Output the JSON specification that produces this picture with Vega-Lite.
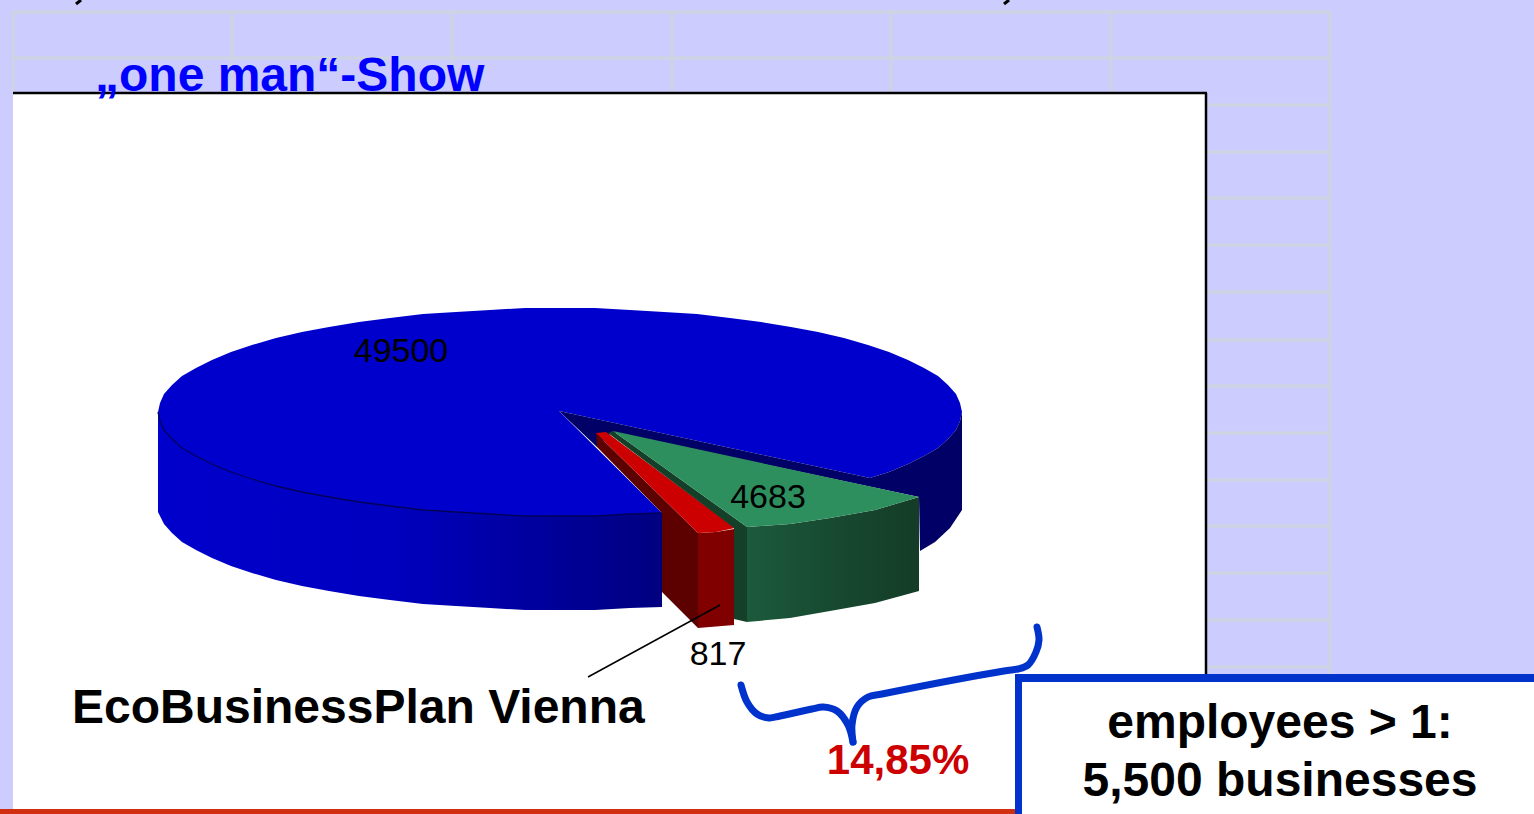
{"$schema":"https://vega.github.io/schema/vega-lite/v6.json","width":1534,"height":814,"autosize":"none","padding":0,"background":"#CCCCFF","config":{"view":{"stroke":null},"axis":{"disable":true}},
"datasets":{
"grid":[{"x":13,"x2":13,"y":12,"y2":93},{"x":232,"x2":232,"y":12,"y2":93},{"x":452,"x2":452,"y":12,"y2":93},{"x":672,"x2":672,"y":12,"y2":93},{"x":891,"x2":891,"y":12,"y2":93},{"x":1111,"x2":1111,"y":12,"y2":93},{"x":1330,"x2":1330,"y":12,"y2":675},{"x":13,"x2":1330,"y":12,"y2":12},{"x":13,"x2":1330,"y":58,"y2":58},{"x":1207,"x2":1330,"y":105,"y2":105},{"x":1207,"x2":1330,"y":152,"y2":152},{"x":1207,"x2":1330,"y":198,"y2":198},{"x":1207,"x2":1330,"y":245,"y2":245},{"x":1207,"x2":1330,"y":292,"y2":292},{"x":1207,"x2":1330,"y":340,"y2":340},{"x":1207,"x2":1330,"y":386,"y2":386},{"x":1207,"x2":1330,"y":433,"y2":433},{"x":1207,"x2":1330,"y":480,"y2":480},{"x":1207,"x2":1330,"y":526,"y2":526},{"x":1207,"x2":1330,"y":573,"y2":573},{"x":1207,"x2":1330,"y":620,"y2":620},{"x":1207,"x2":1330,"y":667,"y2":667}],
"blueWall":[{"i":1,"x":158,"y":412},{"i":2,"x":160,"y":421},{"i":3,"x":164,"y":430},{"i":4,"x":172,"y":439},{"i":5,"x":182,"y":448},{"i":6,"x":212,"y":464},{"i":7,"x":252,"y":479},{"i":8,"x":302,"y":492},{"i":9,"x":359,"y":502},{"i":10,"x":423,"y":510},{"i":11,"x":490,"y":514},{"i":12,"x":560,"y":516},{"i":13,"x":662,"y":513},{"i":14,"x":662,"y":607},{"i":15,"x":630,"y":608},{"i":16,"x":595,"y":610},{"i":17,"x":560,"y":610},{"i":18,"x":525,"y":610},{"i":19,"x":490,"y":608},{"i":20,"x":456,"y":606},{"i":21,"x":423,"y":604},{"i":22,"x":390,"y":600},{"i":23,"x":359,"y":596},{"i":24,"x":329,"y":591},{"i":25,"x":302,"y":586},{"i":26,"x":276,"y":580},{"i":27,"x":252,"y":573},{"i":28,"x":231,"y":566},{"i":29,"x":212,"y":558},{"i":30,"x":196,"y":550},{"i":31,"x":182,"y":542},{"i":32,"x":172,"y":533},{"i":33,"x":164,"y":524},{"i":34,"x":160,"y":516},{"i":35,"x":158,"y":512}],
"navy":[{"i":1,"x":559,"y":411},{"i":2,"x":870,"y":478},{"i":3,"x":889,"y":472},{"i":4,"x":908,"y":464},{"i":5,"x":924,"y":456},{"i":6,"x":938,"y":448},{"i":7,"x":948,"y":439},{"i":8,"x":956,"y":430},{"i":9,"x":960,"y":421},{"i":10,"x":962,"y":412},{"i":11,"x":962,"y":510},{"i":12,"x":950,"y":528},{"i":13,"x":935,"y":542},{"i":14,"x":920,"y":551},{"i":15,"x":919,"y":497},{"i":16,"x":612,"y":432},{"i":17,"x":597,"y":447}],
"blueTop":[{"i":1,"x":559,"y":411},{"i":2,"x":870,"y":478},{"i":3,"x":889,"y":472},{"i":4,"x":908,"y":464},{"i":5,"x":924,"y":456},{"i":6,"x":938,"y":448},{"i":7,"x":948,"y":439},{"i":8,"x":956,"y":430},{"i":9,"x":960,"y":421},{"i":10,"x":962,"y":412},{"i":11,"x":960,"y":403},{"i":12,"x":956,"y":394},{"i":13,"x":948,"y":385},{"i":14,"x":938,"y":376},{"i":15,"x":924,"y":368},{"i":16,"x":908,"y":360},{"i":17,"x":889,"y":352},{"i":18,"x":868,"y":345},{"i":19,"x":844,"y":338},{"i":20,"x":818,"y":332},{"i":21,"x":791,"y":327},{"i":22,"x":761,"y":322},{"i":23,"x":730,"y":318},{"i":24,"x":697,"y":314},{"i":25,"x":664,"y":312},{"i":26,"x":630,"y":310},{"i":27,"x":595,"y":308},{"i":28,"x":560,"y":308},{"i":29,"x":525,"y":308},{"i":30,"x":490,"y":310},{"i":31,"x":456,"y":312},{"i":32,"x":423,"y":314},{"i":33,"x":390,"y":318},{"i":34,"x":359,"y":322},{"i":35,"x":329,"y":327},{"i":36,"x":302,"y":332},{"i":37,"x":276,"y":338},{"i":38,"x":252,"y":345},{"i":39,"x":231,"y":352},{"i":40,"x":212,"y":360},{"i":41,"x":196,"y":368},{"i":42,"x":182,"y":376},{"i":43,"x":172,"y":385},{"i":44,"x":164,"y":394},{"i":45,"x":160,"y":403},{"i":46,"x":158,"y":412},{"i":47,"x":160,"y":421},{"i":48,"x":164,"y":430},{"i":49,"x":172,"y":439},{"i":50,"x":182,"y":448},{"i":51,"x":196,"y":456},{"i":52,"x":212,"y":464},{"i":53,"x":231,"y":472},{"i":54,"x":252,"y":479},{"i":55,"x":276,"y":486},{"i":56,"x":302,"y":492},{"i":57,"x":329,"y":497},{"i":58,"x":359,"y":502},{"i":59,"x":390,"y":506},{"i":60,"x":423,"y":510},{"i":61,"x":456,"y":512},{"i":62,"x":490,"y":514},{"i":63,"x":525,"y":516},{"i":64,"x":560,"y":516},{"i":65,"x":595,"y":516},{"i":66,"x":630,"y":514},{"i":67,"x":662,"y":513}],
"rim":[{"i":1,"x":158,"y":412},{"i":2,"x":160,"y":421},{"i":3,"x":164,"y":430},{"i":4,"x":172,"y":439},{"i":5,"x":182,"y":448},{"i":6,"x":196,"y":456},{"i":7,"x":212,"y":464},{"i":8,"x":231,"y":472},{"i":9,"x":252,"y":479},{"i":10,"x":276,"y":486},{"i":11,"x":302,"y":492},{"i":12,"x":329,"y":497},{"i":13,"x":359,"y":502},{"i":14,"x":390,"y":506},{"i":15,"x":423,"y":510},{"i":16,"x":456,"y":512},{"i":17,"x":490,"y":514},{"i":18,"x":525,"y":516},{"i":19,"x":560,"y":516},{"i":20,"x":595,"y":516},{"i":21,"x":630,"y":514},{"i":22,"x":662,"y":513}],
"redSide":[{"i":1,"x":596,"y":433},{"i":2,"x":698,"y":533},{"i":3,"x":698,"y":628},{"i":4,"x":662,"y":592},{"i":5,"x":662,"y":513},{"i":6,"x":597,"y":447}],
"redTop":[{"i":1,"x":596,"y":433},{"i":2,"x":606,"y":432},{"i":3,"x":735,"y":528},{"i":4,"x":716,"y":532},{"i":5,"x":698,"y":533}],
"redFront":[{"i":1,"x":698,"y":533},{"i":2,"x":716,"y":532},{"i":3,"x":734,"y":529},{"i":4,"x":734,"y":625},{"i":5,"x":698,"y":628}],
"greenSide":[{"i":1,"x":608,"y":433},{"i":2,"x":613,"y":431},{"i":3,"x":747,"y":527},{"i":4,"x":747,"y":622},{"i":5,"x":734,"y":619},{"i":6,"x":734,"y":528}],
"greenTop":[{"i":1,"x":613,"y":431},{"i":2,"x":919,"y":497},{"i":3,"x":875,"y":510},{"i":4,"x":830,"y":518},{"i":5,"x":790,"y":524},{"i":6,"x":747,"y":527}],
"greenFront":[{"i":1,"x":747,"y":527},{"i":2,"x":790,"y":524},{"i":3,"x":830,"y":518},{"i":4,"x":875,"y":510},{"i":5,"x":919,"y":497},{"i":6,"x":919,"y":591},{"i":7,"x":875,"y":603},{"i":8,"x":830,"y":611},{"i":9,"x":790,"y":618},{"i":10,"x":747,"y":622}],
"leader":[{"i":1,"x":588,"y":677},{"i":2,"x":720,"y":605}],
"stubA":[{"i":1,"x":81,"y":0},{"i":2,"x":76,"y":4}],
"stubB":[{"i":1,"x":1009,"y":0},{"i":2,"x":1004,"y":4}],
"braceLeft":[{"i":1,"x":741,"y":685},{"i":2,"x":747,"y":702},{"i":3,"x":757,"y":714},{"i":4,"x":769,"y":718},{"i":5,"x":780,"y":716},{"i":6,"x":812,"y":709},{"i":7,"x":823,"y":707},{"i":8,"x":837,"y":711},{"i":9,"x":848,"y":725},{"i":10,"x":853,"y":742}],
"braceRight":[{"i":1,"x":853,"y":742},{"i":2,"x":852,"y":725},{"i":3,"x":857,"y":707},{"i":4,"x":868,"y":697},{"i":5,"x":882,"y":694},{"i":6,"x":1004,"y":671},{"i":7,"x":1018,"y":669},{"i":8,"x":1028,"y":665},{"i":9,"x":1036,"y":652},{"i":10,"x":1039,"y":640},{"i":11,"x":1037,"y":627}]
},
"encoding":{"x":{"field":"x","type":"quantitative","scale":{"domain":[0,1534],"nice":false,"zero":false},"axis":null},"y":{"field":"y","type":"quantitative","scale":{"domain":[814,0],"nice":false,"zero":false},"axis":null},"order":{"field":"i"}},
"layer":[
{"data":{"name":"grid"},"mark":{"type":"rule","color":"#D0D3E0","strokeWidth":3},"encoding":{"x2":{"field":"x2"},"y2":{"field":"y2"},"order":{"value":null}}},
{"data":{"values":[{"x":13,"x2":1207,"y":93,"y2":814}]},"mark":{"type":"rect","color":"#FFFFFF"},"encoding":{"x2":{"field":"x2"},"y2":{"field":"y2"},"order":{"value":null}}},
{"data":{"values":[{"x":13,"x2":1207,"y":93,"y2":93},{"x":1206,"x2":1206,"y":93,"y2":680}]},"mark":{"type":"rule","color":"#000000","strokeWidth":2.5},"encoding":{"x2":{"field":"x2"},"y2":{"field":"y2"},"order":{"value":null}}},
{"data":{"values":[{"x":0,"x2":1017,"y":809,"y2":814}]},"mark":{"type":"rect","color":"#D03010"},"encoding":{"x2":{"field":"x2"},"y2":{"field":"y2"},"order":{"value":null}}},
{"data":{"name":"stubA"},"mark":{"type":"line","color":"#000000","strokeWidth":3}},
{"data":{"name":"stubB"},"mark":{"type":"line","color":"#000000","strokeWidth":3}},
{"data":{"values":[{"x":1019,"x2":1534,"y":678,"y2":814}]},"mark":{"type":"rect","color":"#FFFFFF"},"encoding":{"x2":{"field":"x2"},"y2":{"field":"y2"},"order":{"value":null}}},
{"data":{"values":[{"x":1015,"x2":1534,"y":674,"y2":682},{"x":1015,"x2":1022,"y":674,"y2":814}]},"mark":{"type":"rect","color":"#0033CC"},"encoding":{"x2":{"field":"x2"},"y2":{"field":"y2"},"order":{"value":null}}},
{"data":{"name":"blueWall"},"mark":{"type":"line","strokeWidth":0,"fill":{"x1":0,"y1":0,"x2":1,"y2":0,"gradient":"linear","stops":[{"offset":0,"color":"#0000CC"},{"offset":0.45,"color":"#0000C0"},{"offset":1,"color":"#000080"}]}}},
{"data":{"name":"blueTop"},"mark":{"type":"line","strokeWidth":0,"fill":"#0000CC"}},
{"data":{"name":"rim"},"mark":{"type":"line","color":"#00005A","strokeWidth":1.3}},
{"data":{"name":"navy"},"mark":{"type":"line","strokeWidth":0,"fill":"#000066"}},
{"data":{"name":"redSide"},"mark":{"type":"line","strokeWidth":0,"fill":"#5C0000"}},
{"data":{"name":"redFront"},"mark":{"type":"line","strokeWidth":0,"fill":"#800000"}},
{"data":{"name":"redTop"},"mark":{"type":"line","strokeWidth":0,"fill":"#CC0000"}},
{"data":{"name":"greenSide"},"mark":{"type":"line","strokeWidth":0,"fill":"#14402A"}},
{"data":{"name":"greenFront"},"mark":{"type":"line","strokeWidth":0,"fill":{"x1":0,"y1":0,"x2":1,"y2":0,"gradient":"linear","stops":[{"offset":0,"color":"#1C5A3C"},{"offset":0.5,"color":"#174A30"},{"offset":1,"color":"#143C28"}]}}},
{"data":{"name":"greenTop"},"mark":{"type":"line","strokeWidth":0,"fill":"#2E8F5E"}},
{"data":{"name":"leader"},"mark":{"type":"line","color":"#000000","strokeWidth":1.5}},
{"data":{"name":"braceLeft"},"mark":{"type":"line","color":"#0033CC","strokeWidth":7,"interpolate":"catmull-rom","strokeCap":"round"}},
{"data":{"name":"braceRight"},"mark":{"type":"line","color":"#0033CC","strokeWidth":7,"interpolate":"catmull-rom","strokeCap":"round"}},
{"data":{"values":[{"label":"49500","x":401,"y":362},{"label":"4683","x":768,"y":508},{"label":"817","x":718,"y":665}]},"mark":{"type":"text","font":"Liberation Sans","fontSize":34,"color":"#000000","align":"center","baseline":"alphabetic"},"encoding":{"text":{"field":"label"},"order":{"value":null}}},
{"data":{"values":[{"label":"„one man“-Show","x":95,"y":91}]},"mark":{"type":"text","font":"Liberation Sans","fontWeight":"bold","fontSize":48,"color":"#0000FF","align":"left","baseline":"alphabetic"},"encoding":{"text":{"field":"label"},"order":{"value":null}}},
{"data":{"values":[{"label":"EcoBusinessPlan Vienna","x":72,"y":723}]},"mark":{"type":"text","font":"Liberation Sans","fontWeight":"bold","fontSize":48,"color":"#000000","align":"left","baseline":"alphabetic"},"encoding":{"text":{"field":"label"},"order":{"value":null}}},
{"data":{"values":[{"label":"14,85%","x":898,"y":774}]},"mark":{"type":"text","font":"Liberation Sans","fontWeight":"bold","fontSize":42,"color":"#CC0000","align":"center","baseline":"alphabetic"},"encoding":{"text":{"field":"label"},"order":{"value":null}}},
{"data":{"values":[{"label":"employees > 1:","x":1280,"y":738},{"label":"5,500 businesses","x":1280,"y":796}]},"mark":{"type":"text","font":"Liberation Sans","fontWeight":"bold","fontSize":48,"color":"#000000","align":"center","baseline":"alphabetic"},"encoding":{"text":{"field":"label"},"order":{"value":null}}}
]}
